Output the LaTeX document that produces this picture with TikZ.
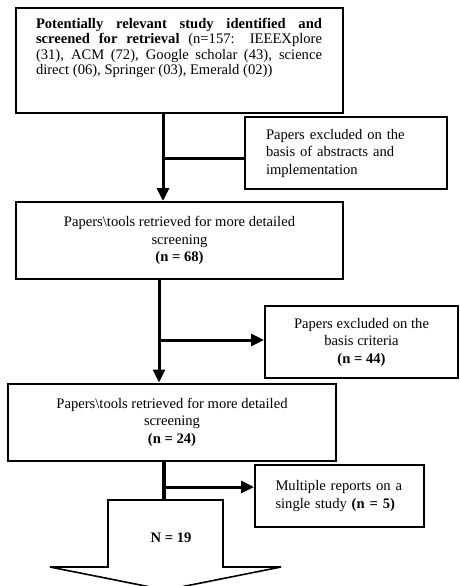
\documentclass[tikz,border=0pt]{standalone}
\usepackage{fontspec}
\setmainfont{Liberation Serif}
\usetikzlibrary{arrows.meta}

\begin{document}
\begin{tikzpicture}[x=1pt, y=-1pt,
		box/.style={draw, line width=2pt, inner sep=0pt, font=\fontsize{14.6}{17.5}\selectfont},
		flow/.style={line width=3pt},
		>={Triangle[length=13pt, width=12pt]}]
				\useasboundingbox (0,0) rectangle (460,586);
				\clip (0,0) rectangle (460,586);
				
				\node[box, minimum width=327pt, minimum height=105pt] (id) at (179.5,60.5) {};
				\node[anchor=north, inner sep=0pt, text width=286pt, align=justify, font=\fontsize{14.6}{15.4}\selectfont] (idtext) at (179,18) {\textbf{Potentially relevant study identified and screened for retrieval} (n=157: IEEEXplore (31), ACM (72), Google scholar (43), science direct (06), Springer (03), Emerald (02))};
				\node[box, minimum width=202pt, minimum height=72pt, text width=160pt, align=left] (ex1) at (346,153) {Papers excluded on the\\ basis of abstracts and\\ implementation};
				\node[box, minimum width=327pt, minimum height=77pt, align=center] (ret1) at (179.5,240.5) {Papers\textbackslash tools retrieved for more detailed\\ screening\\ \textbf{(n = 68)}};
				\node[box, minimum width=193pt, minimum height=72pt, align=center] (ex2) at (361.5,342) {Papers excluded on the\\ basis criteria\\ \textbf{(n = 44)}};
				\node[box, minimum width=328pt, minimum height=77pt, align=center] (ret2) at (172,422) {Papers\textbackslash tools retrieved for more detailed\\ screening\\ \textbf{(n = 24)}};
				\node[box, minimum width=169pt, minimum height=62pt, text width=128pt, align=left] (ex3) at (339.5,496) {Multiple reports on a\\ single study \textbf{(n = 5)}};
				
				% final count arrow
				\draw[line width=1.6pt] (108,500) -- (223,500) -- (223,567) -- (281,567) -- (165.5,590) -- (50,567) -- (108,567) -- cycle;
				\node[font=\fontsize{14.6}{17.5}\selectfont\bfseries] (N) at (171,538) {N = 19};
				
				\coordinate (j1) at (163,158);
				\coordinate (j2) at (159,340);
				\coordinate (j3) at (164,487);
				\coordinate (top) at (164,500);
				
				\draw[flow, ->] (id.south -| j1) -- (ret1.north -| j1);
				\draw[flow] (ex1.west |- j1) -- (j1);
				\draw[flow, ->] (ret1.south -| j2) -- (ret2.north -| j2);
				\draw[flow, ->] (j2) -- (ex2.west |- j2);
				\draw[flow, line width=4.5pt] (ret2.south -| j3) -- (top);
				\draw[flow, ->] (j3) -- (ex3.west |- j3);
			\end{tikzpicture}
\end{document}
